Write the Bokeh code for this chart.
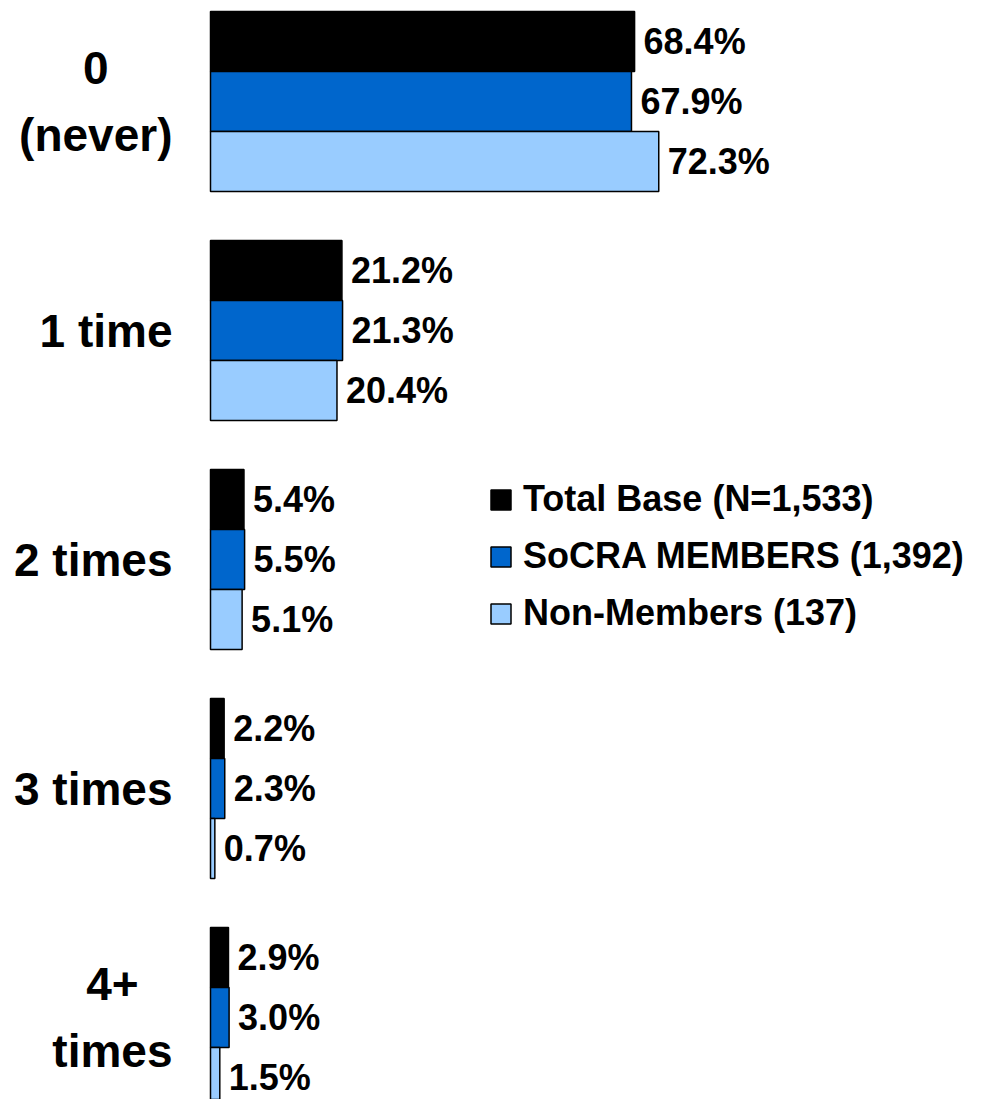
from bokeh.plotting import figure
from bokeh.models import ColumnDataSource, Range1d, Legend, LegendItem
from bokeh.core.properties import value
from bokeh.embed import file_html
from bokeh.resources import INLINE

# Number of times (answer categories) and the three respondent groups
categories = ["0\n(never)", "1 time", "2 times", "3 times", "4+\ntimes"]
series_names = ["Total Base (N=1,533)", "SoCRA MEMBERS (1,392)", "Non-Members (137)"]
total_base = [68.4, 21.2, 5.4, 2.2, 2.9]
socra_members = [67.9, 21.3, 5.5, 2.3, 3.0]
non_members = [72.3, 20.4, 5.1, 0.7, 1.5]
series_values = [total_base, socra_members, non_members]
series_colors = ["#000000", "#0066CC", "#99CCFF"]

# Layout (pixels)
W, H = 984, 1099
PX_PER_PCT = 6.2      # horizontal scale
X0 = 210              # where 0% sits
TOP = 11              # top of the first group
BAR = 60              # bar thickness
GROUP = 229           # distance between group tops
FONT = "Liberation Sans"

p = figure(width=W, height=H, output_backend="svg", toolbar_location=None,
           x_range=Range1d(-X0 / PX_PER_PCT, (W - X0) / PX_PER_PCT),
           y_range=Range1d(H, 0),
           x_axis_location=None, y_axis_location=None,
           min_border=0, outline_line_color=None)
p.grid.visible = False
p.background_fill_color = "white"
p.border_fill_color = "white"

legend_items = []
for j, (name, vals, color) in enumerate(zip(series_names, series_values, series_colors)):
    ys = [TOP + i * GROUP + j * BAR + BAR / 2 for i in range(len(categories))]
    src = ColumnDataSource(dict(y=ys, v=vals, lab=[f"{v:.1f}%" for v in vals]))
    r = p.hbar(y="y", left=0, right="v", height=BAR, source=src,
               fill_color=color, line_color="black", line_width=1.5)
    p.text(x="v", y="y", text="lab", source=src, x_offset=9,
           text_align="left", text_baseline="middle",
           text_font=value(FONT), text_font_style="bold",
           text_font_size="36px", text_color="black")
    legend_items.append(LegendItem(label=name, renderers=[r]))

# Category labels, right-anchored to the left of the bars
cat_src = ColumnDataSource(dict(
    x=[0] * len(categories),
    y=[TOP + i * GROUP + 1.5 * BAR for i in range(len(categories))],
    t=categories))
p.text(x="x", y="y", text="t", source=cat_src, x_offset=-38,
       anchor="center_right", text_align="center", text_baseline="middle",
       text_line_height=1.28,
       text_font=value(FONT), text_font_style="bold",
       text_font_size="46px", text_color="black")

legend = Legend(items=legend_items, location=(488, H - 634),
                glyph_width=25, glyph_height=25, label_standoff=10,
                label_text_font=FONT, label_text_font_style="bold",
                label_text_font_size="36px", label_text_color="black",
                spacing=15, padding=0, margin=0,
                border_line_color=None, background_fill_alpha=0)
p.add_layout(legend)

open("out.html", "w").write(file_html(p, INLINE))
